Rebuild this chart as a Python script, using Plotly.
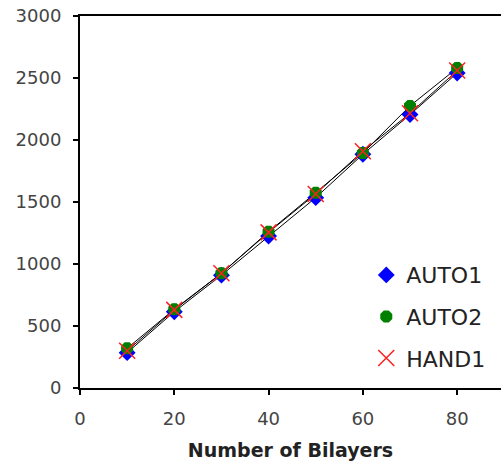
import plotly.graph_objects as go

bilayers = [10, 20, 30, 40, 50, 60, 70, 80]
auto1 = [285, 615, 910, 1225, 1535, 1885, 2205, 2540]
auto2 = [320, 635, 925, 1260, 1575, 1895, 2275, 2580]
hand1 = [300, 630, 925, 1255, 1565, 1910, 2215, 2560]

x_ticks = [0, 20, 40, 60, 80]
y_ticks = [0, 500, 1000, 1500, 2000, 2500, 3000]

fig = go.Figure()

# thin black connecting lines for each data set
for vals in (auto1, auto2, hand1):
    fig.add_trace(go.Scatter(
        x=bilayers, y=vals, mode="lines",
        line=dict(color="black", width=1), showlegend=False, hoverinfo="skip"))

series = [
    ("AUTO1", auto1, dict(symbol="diamond", color="#0000ff", size=13)),
    ("AUTO2", auto2, dict(symbol="octagon", color="#008000", size=13)),
    ("HAND1", hand1, dict(symbol="x-thin", size=16, line=dict(color="#ff2020", width=1.5))),
]
for name, vals, mk in series:
    fig.add_trace(go.Scatter(
        x=bilayers, y=vals, mode="markers", name=name, marker=mk,
        legendgroup=name))

fig.update_layout(
    width=501, height=468,
    margin=dict(l=80, r=0, t=16, b=80),
    paper_bgcolor="white", plot_bgcolor="white",
    font=dict(family="DejaVu Sans, sans-serif", color="#444444", size=18),
    legend=dict(x=0.68, y=0.36, xanchor="left", yanchor="top",
                font=dict(size=22, color="#222222"), tracegroupgap=10,
                bgcolor="rgba(0,0,0,0)", itemwidth=30),
    xaxis=dict(range=[0, 89.3], tickvals=x_ticks, showgrid=False, zeroline=False,
               showline=True, linecolor="black", linewidth=2, mirror=True,
               ticks="outside", ticklen=5, tickwidth=2, tickcolor="black",
               ticklabelstandoff=8,
               title=dict(text="<b>Number of Bilayers</b>",
                          font=dict(size=19, color="#222222"), standoff=16)),
    yaxis=dict(range=[0, 3000], tickvals=y_ticks, showgrid=False, zeroline=False,
               showline=True, linecolor="black", linewidth=2,
               ticks="outside", ticklen=5, tickwidth=2, tickcolor="black",
               ticklabelstandoff=8),
)

fig.write_html("out.html")
